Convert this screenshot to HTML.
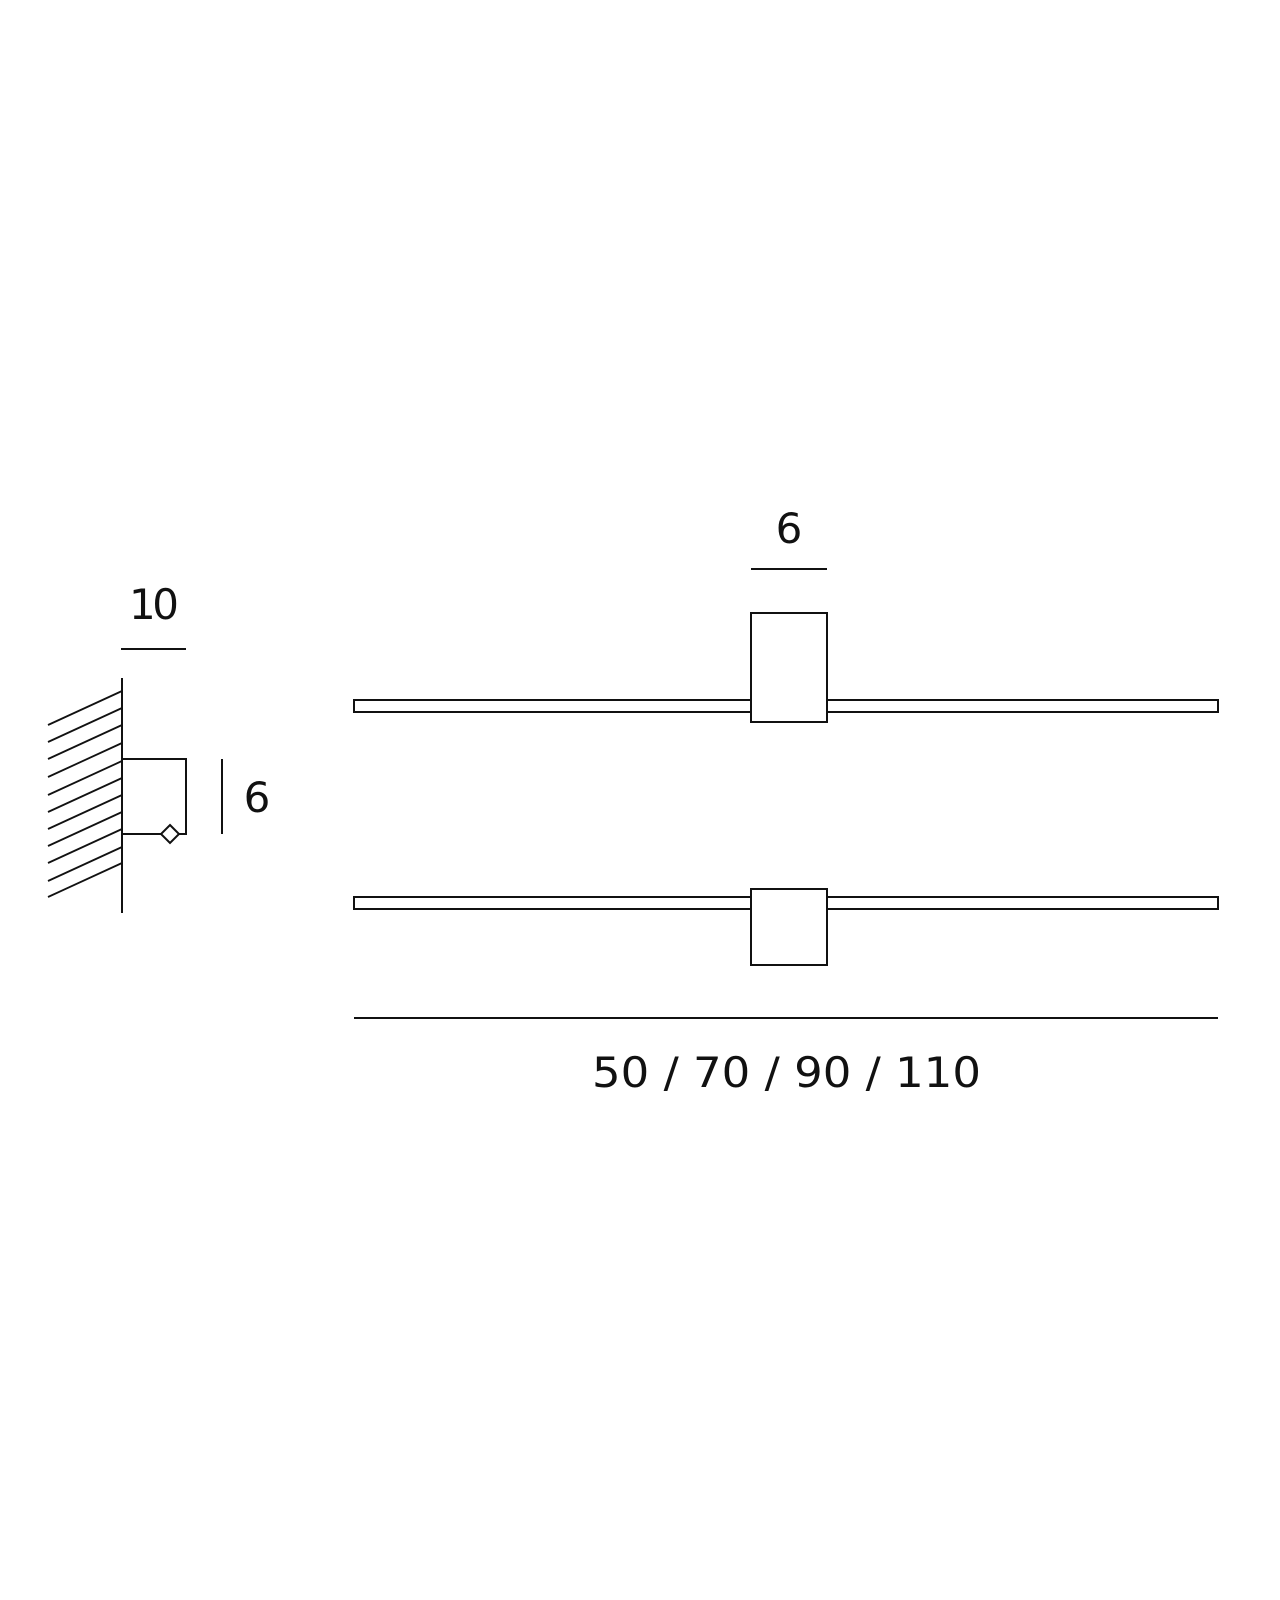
<!DOCTYPE html>
<html><head><meta charset="utf-8"><style>html,body{margin:0;padding:0;background:#fff}svg{display:block}</style></head>
<body>
<svg width="1280" height="1600" viewBox="0 0 1280 1600" xmlns="http://www.w3.org/2000/svg">
<g stroke="#111" stroke-width="2" fill="none">
  <line x1="121" y1="649" x2="186" y2="649"/>
  <line x1="122" y1="678" x2="122" y2="913"/>
  <g stroke-width="1.8">
    <line x1="48" y1="725" x2="122" y2="691"/>
    <line x1="48" y1="742" x2="122" y2="708"/>
    <line x1="48" y1="759" x2="122" y2="725"/>
    <line x1="48" y1="777" x2="122" y2="743"/>
    <line x1="48" y1="795" x2="122" y2="761"/>
    <line x1="48" y1="812" x2="122" y2="778"/>
    <line x1="48" y1="829" x2="122" y2="795"/>
    <line x1="48" y1="846" x2="122" y2="812"/>
    <line x1="48" y1="863" x2="122" y2="829"/>
    <line x1="48" y1="881" x2="122" y2="847"/>
    <line x1="48" y1="897" x2="122" y2="863"/>
  </g>
  <polyline points="122,759 186,759 186,834 122,834"/>
  <polygon points="170,825 179,834 170,843 161,834" fill="#fff"/>
  <line x1="222" y1="759" x2="222" y2="834"/>
  <line x1="751" y1="569" x2="827" y2="569"/>
  <rect x="354" y="700" width="864" height="12"/>
  <rect x="751" y="613" width="76" height="109" fill="#fff"/>
  <rect x="354" y="897" width="864" height="12"/>
  <rect x="751" y="889" width="76" height="76" fill="#fff"/>
  <line x1="354" y1="1018" x2="1218" y2="1018"/>
</g>
<g font-family="'DejaVu Sans','Liberation Sans',sans-serif" fill="#111" font-size="42">
  <text x="154" y="619" text-anchor="middle" textLength="50">10</text>
  <text x="257" y="812" text-anchor="middle">6</text>
  <text x="789" y="543" text-anchor="middle">6</text>
  <text x="592" y="1087" textLength="389" lengthAdjust="spacingAndGlyphs">50 / 70 / 90 / 110</text>
</g>
</svg>
</body></html>
